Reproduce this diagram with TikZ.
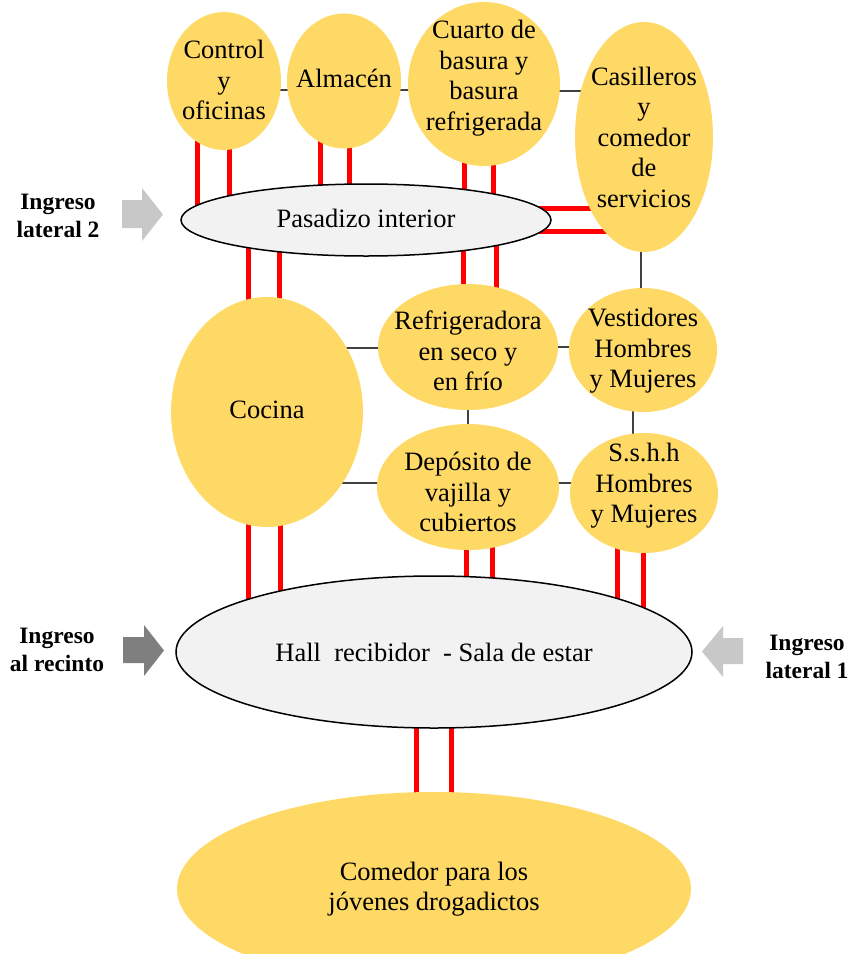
\documentclass[tikz,border=0pt]{standalone}
\usepackage{fontspec}
\setmainfont{Liberation Serif}
\usetikzlibrary{shapes.geometric,calc}
\pgfdeclarelayer{background}
\pgfsetlayers{background,main}
\definecolor{ylw}{HTML}{FFD966}
\definecolor{hallgray}{HTML}{F2F2F2}
\definecolor{lgray}{HTML}{C8C8C8}
\definecolor{dgray}{HTML}{7F7F7F}
\definecolor{linkgray}{HTML}{404040}
\definecolor{redlink}{HTML}{FF0000}
\begin{document}
\begin{tikzpicture}[x=1pt,y=-1pt,
  room/.style={ellipse, fill=ylw, inner sep=0pt, draw=none},
  hub/.style={ellipse, fill=hallgray, draw=black, line width=1.5pt, inner sep=0pt},
  txt/.style={align=center, font=\fontsize{26.5}{30.5}\selectfont, inner sep=0pt},
  lbl/.style={align=center, font=\fontsize{23.5}{28}\selectfont\bfseries, inner sep=0pt},
  link/.style={draw=linkgray, line width=1.2pt},
  redpair/.style={draw=redlink, line width=5pt}
]
\useasboundingbox (0,0) rectangle (851,954);

% rooms
\node[room, minimum width=114pt, minimum height=138pt] (ctrl) at (224,81) {};
\node[txt] (ctrlT) at (224,80) {Control\\y\\oficinas};
\node[room, minimum width=114pt, minimum height=135pt] (alm) at (344,81) {};
\node[txt] (almT) at (344,78) {Almacén};
\node[room, minimum width=152pt, minimum height=164pt] (cua) at (484,84) {};
\node[txt] (cuaT) at (484,78) {Cuarto de\\basura y\\basura\\refrigerada};
\node[room, minimum width=138pt, minimum height=230pt] (cas) at (644,137) {};
\node[txt] (casT) at (644,137) {Casilleros\\y\\comedor\\de\\servicios};
\node[hub, minimum width=370pt, minimum height=72pt] (pas) at (366,220) {};
\node[txt] (pasT) at (366,218) {Pasadizo interior};
\node[room, minimum width=192pt, minimum height=230pt] (coc) at (267,412) {};
\node[txt] (cocT) at (267,410) {Cocina};
\node[room, minimum width=180pt, minimum height=126pt] (ref) at (468,347) {};
\node[txt] (refT) at (468,351) {Refrigeradora\\en seco y\\en frío};
\node[room, minimum width=148pt, minimum height=124pt] (ves) at (643,350) {};
\node[txt] (vesT) at (643,351) {Vestidores\\Hombres\\y Mujeres};
\node[room, minimum width=182pt, minimum height=126pt] (dep) at (468,487) {};
\node[txt] (depT) at (468,492) {Depósito de\\vajilla y\\cubiertos};
\node[room, minimum width=148pt, minimum height=120pt] (ssh) at (644,493) {};
\node[txt] (sshT) at (644,486) {S.s.h.h\\Hombres\\y Mujeres};
\node[hub, minimum width=516pt, minimum height=152pt] (hall) at (434,652) {};
\node[txt] (hallT) at (434,652) {Hall\ \ recibidor\ \ - Sala de estar};
\node[room, minimum width=514pt, minimum height=194pt] (com) at (434,889) {};
\node[txt] (comT) at (434,889) {Comedor para los\\jóvenes drogadictos};

% entry labels
\node[lbl] (in2) at (58,216) {Ingreso\\lateral 2};
\node[lbl] (inr) at (57,650) {Ingreso\\al recinto};
\node[lbl] (in1) at (807,657) {Ingreso\\lateral 1};

% entry arrows
\fill[lgray] (122,200) -- (142,200) -- (142,188) -- (163,214.5) -- (142,241) -- (142,228) -- (122,228) -- cycle;
\fill[dgray] (123,637) -- (144,637) -- (144,625) -- (164,650.5) -- (144,676) -- (144,663) -- (123,663) -- cycle;
\fill[lgray] (743,638) -- (723,638) -- (723,626) -- (702,651.5) -- (723,677) -- (723,664) -- (743,664) -- cycle;

\begin{pgfonlayer}{background}
% thin links
\draw[link] ($(ctrl.center)+(0,9)$) -- ($(alm.center)+(0,9)$);
\draw[link] ($(alm.center)+(0,9)$) -- ($(cua.center)+(0,6)$);
\draw[link] ($(cua.center)+(0,7)$) -- ($(cas.center)+(0,-46)$);
\draw[link] ($(cas.center)+(-3,0)$) -- ($(ves.center)+(-2,0)$);
\draw[link] ($(coc.center)+(0,-64)$) -- ($(ref.center)+(0,1)$);
\draw[link] (ref.center) -- ($(ves.center)+(0,-3)$);
\draw[link] (ref.center) -- (dep.center);
\draw[link] ($(ves.center)+(-10,0)$) -- ($(ssh.center)+(-11,0)$);
\draw[link] ($(coc.center)+(0,71)$) -- ($(dep.center)+(0,-4)$);
\draw[link] ($(dep.center)+(0,-4)$) -- ($(ssh.center)+(0,-10)$);
% red double links
\draw[redpair] ($(ctrl.center)+(-27,0)$) -- ($(pas.center)+(-169,0)$);
\draw[redpair] ($(ctrl.center)+(5,0)$) -- ($(pas.center)+(-137,0)$);
\draw[redpair] ($(alm.center)+(-24,0)$) -- ($(pas.center)+(-46,0)$);
\draw[redpair] ($(alm.center)+(5,0)$) -- ($(pas.center)+(-17,0)$);
\draw[redpair] ($(cua.center)+(-20,0)$) -- ($(pas.center)+(98,0)$);
\draw[redpair] ($(cua.center)+(9,0)$) -- ($(pas.center)+(127,0)$);
\draw[redpair] ($(pas.center)+(0,-12)$) -- ($(cas.center)+(0,71)$);
\draw[redpair] ($(pas.center)+(0,11)$) -- ($(cas.center)+(0,94)$);
\draw[redpair] ($(pas.center)+(-118,0)$) -- ($(coc.center)+(-19,0)$);
\draw[redpair] ($(pas.center)+(-87,0)$) -- ($(coc.center)+(12,0)$);
\draw[redpair] ($(pas.center)+(97,0)$) -- ($(ref.center)+(-5,0)$);
\draw[redpair] ($(pas.center)+(130,0)$) -- ($(ref.center)+(28,0)$);
\draw[redpair] ($(coc.center)+(-19,0)$) -- ($(hall.center)+(-186,0)$);
\draw[redpair] ($(coc.center)+(13,0)$) -- ($(hall.center)+(-154,0)$);
\draw[redpair] ($(dep.center)+(-2,0)$) -- ($(hall.center)+(32,0)$);
\draw[redpair] ($(dep.center)+(24,0)$) -- ($(hall.center)+(58,0)$);
\draw[redpair] ($(ssh.center)+(-27,0)$) -- ($(hall.center)+(183,0)$);
\draw[redpair] ($(ssh.center)+(-1,0)$) -- ($(hall.center)+(209,0)$);
\draw[redpair] ($(hall.center)+(-18,0)$) -- ($(com.center)+(-18,0)$);
\draw[redpair] ($(hall.center)+(17,0)$) -- ($(com.center)+(17,0)$);
\end{pgfonlayer}
\end{tikzpicture}
\end{document}
